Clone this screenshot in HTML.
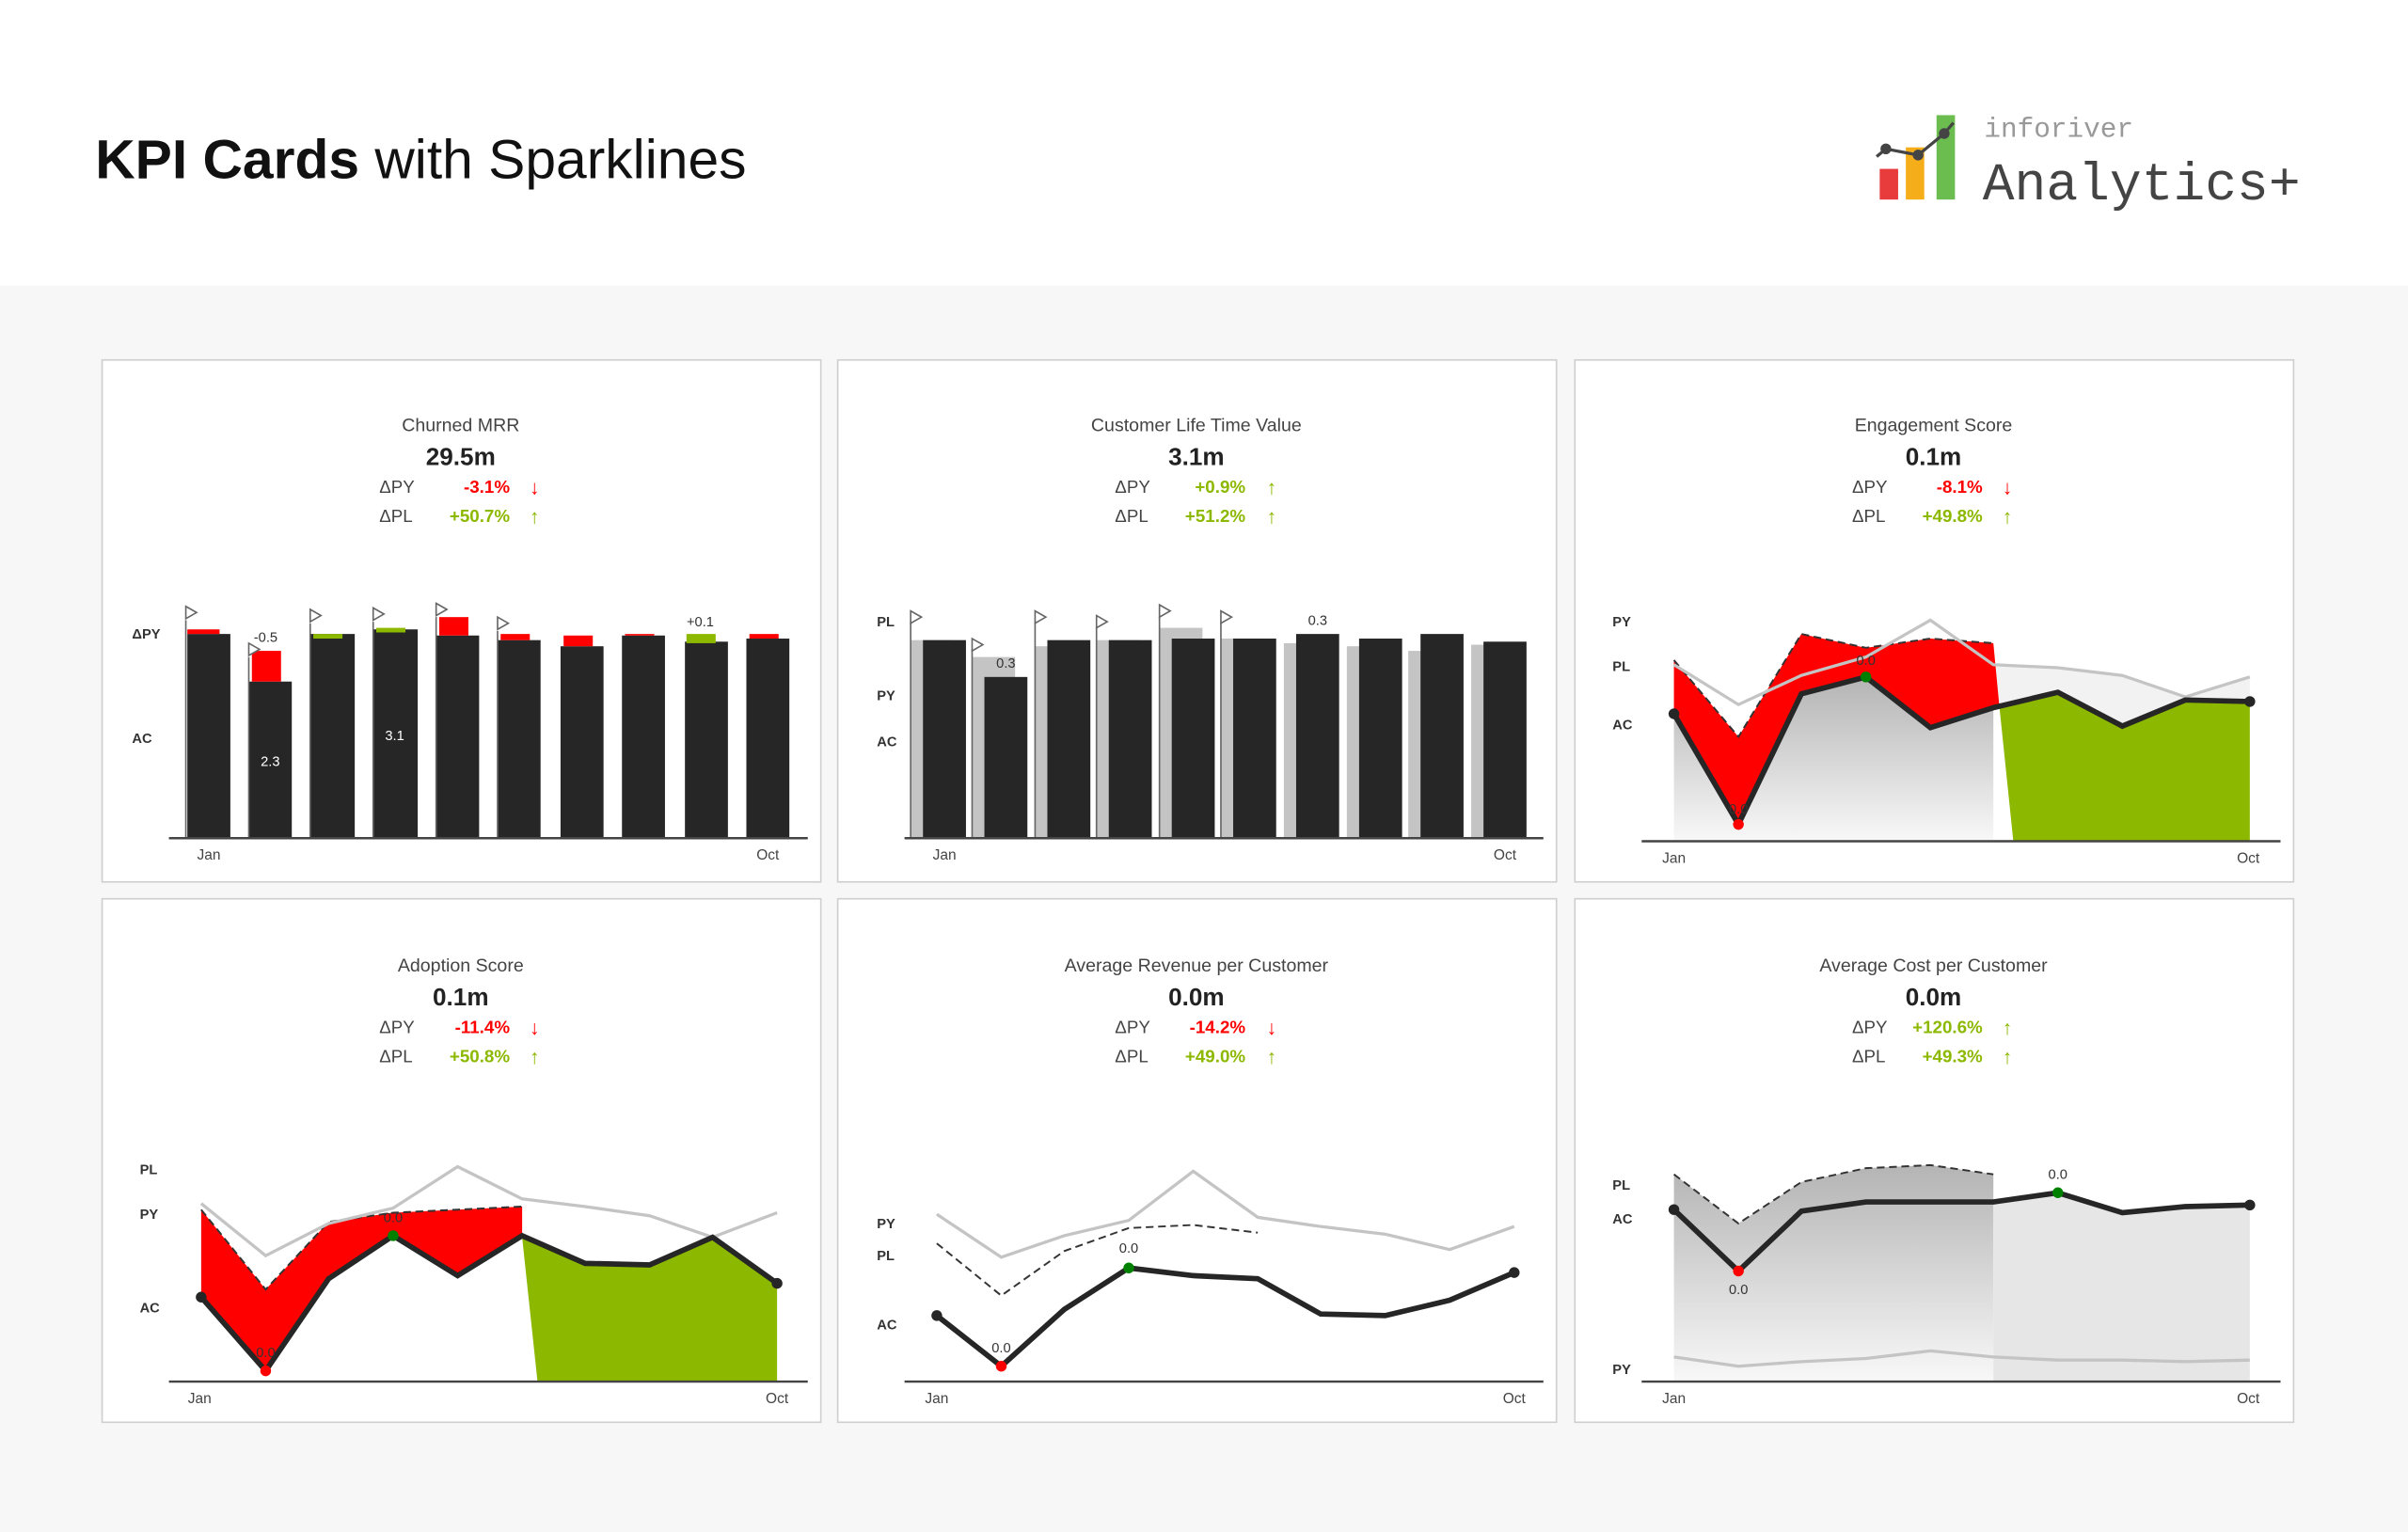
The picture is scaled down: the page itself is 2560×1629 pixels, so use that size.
<!DOCTYPE html>
<html><head><meta charset="utf-8"><style>
html,body{margin:0;padding:0;background:#fff}
svg{display:block}
text{font-family:"Liberation Sans",sans-serif}
.t{font-size:12px;fill:#444;text-anchor:middle}
.v{font-size:16px;font-weight:bold;fill:#222;text-anchor:middle}
.l{font-size:11.5px;fill:#444}
.r{font-size:11.5px;fill:#f00;font-weight:bold;text-anchor:end}
.g{font-size:11.5px;fill:#8cb800;font-weight:bold;text-anchor:end}
.ax{font-size:9px;font-weight:bold;fill:#333}
.m{font-size:9.5px;fill:#444}
.s{font-size:9px;fill:#333}
</style></head><body>
<svg width="2560" height="1629" viewBox="0 0 1568 998" preserveAspectRatio="none" xmlns="http://www.w3.org/2000/svg">
<defs>
<linearGradient id="gg" x1="0" y1="0" x2="0" y2="1"><stop offset="0" stop-color="#b4b4b4"/><stop offset="1" stop-color="#f8f8f8"/></linearGradient>
</defs>
<rect x="0" y="0" width="1568" height="998" fill="#f7f7f7"/>
<rect x="0" y="0" width="1568" height="186" fill="#fff"/>
<text x="62" y="116" font-size="36" fill="#111"><tspan font-weight="bold">KPI Cards</tspan> with Sparklines</text>
<!-- logo -->
<rect x="1224" y="110" width="12" height="20" fill="#e83c3c"/>
<rect x="1241" y="96" width="12" height="34" fill="#f5ae1a"/>
<rect x="1261" y="75" width="12" height="55" fill="#6cbd4f"/>
<polyline points="1222,102 1228,97 1249,101 1266,87 1272,80" fill="none" stroke="#444" stroke-width="2"/>
<circle cx="1228" cy="97" r="3.5" fill="#444"/><circle cx="1249" cy="101" r="3.5" fill="#444"/><circle cx="1266" cy="87" r="3.5" fill="#444"/>
<text x="1292" y="89" font-size="18" fill="#999" style="font-family:'Liberation Mono',monospace">inforiver</text>
<text x="1291" y="130" font-size="34.5" fill="#444" style="font-family:'Liberation Mono',monospace">Analytics+</text>

<!-- cards -->
<g fill="#fff" stroke="#cfcfcf" stroke-width="1">
<rect x="66.5" y="234.5" width="468" height="340"/>
<rect x="545.5" y="234.5" width="468" height="340"/>
<rect x="1025.5" y="234.5" width="468" height="340"/>
<rect x="66.5" y="585.5" width="468" height="341"/>
<rect x="545.5" y="585.5" width="468" height="341"/>
<rect x="1025.5" y="585.5" width="468" height="341"/>
</g>

<!-- headers -->
<g>
<text class="t" x="300" y="281">Churned MRR</text><text class="v" x="300" y="303">29.5m</text>
<text class="l" x="247" y="321">ΔPY</text><text class="r" x="332" y="321">-3.1%</text><text x="348" y="322" font-size="13" fill="#f00" font-weight="bold" text-anchor="middle">↓</text>
<text class="l" x="247" y="340">ΔPL</text><text class="g" x="332" y="340">+50.7%</text><text x="348" y="341" font-size="13" fill="#8cb800" font-weight="bold" text-anchor="middle">↑</text>

<text class="t" x="779" y="281">Customer Life Time Value</text><text class="v" x="779" y="303">3.1m</text>
<text class="l" x="726" y="321">ΔPY</text><text class="g" x="811" y="321">+0.9%</text><text x="828" y="322" font-size="13" fill="#8cb800" font-weight="bold" text-anchor="middle">↑</text>
<text class="l" x="726" y="340">ΔPL</text><text class="g" x="811" y="340">+51.2%</text><text x="828" y="341" font-size="13" fill="#8cb800" font-weight="bold" text-anchor="middle">↑</text>

<text class="t" x="1259" y="281">Engagement Score</text><text class="v" x="1259" y="303">0.1m</text>
<text class="l" x="1206" y="321">ΔPY</text><text class="r" x="1291" y="321">-8.1%</text><text x="1307" y="322" font-size="13" fill="#f00" font-weight="bold" text-anchor="middle">↓</text>
<text class="l" x="1206" y="340">ΔPL</text><text class="g" x="1291" y="340">+49.8%</text><text x="1307" y="341" font-size="13" fill="#8cb800" font-weight="bold" text-anchor="middle">↑</text>

<text class="t" x="300" y="633">Adoption Score</text><text class="v" x="300" y="655">0.1m</text>
<text class="l" x="247" y="673">ΔPY</text><text class="r" x="332" y="673">-11.4%</text><text x="348" y="674" font-size="13" fill="#f00" font-weight="bold" text-anchor="middle">↓</text>
<text class="l" x="247" y="692">ΔPL</text><text class="g" x="332" y="692">+50.8%</text><text x="348" y="693" font-size="13" fill="#8cb800" font-weight="bold" text-anchor="middle">↑</text>

<text class="t" x="779" y="633">Average Revenue per Customer</text><text class="v" x="779" y="655">0.0m</text>
<text class="l" x="726" y="673">ΔPY</text><text class="r" x="811" y="673">-14.2%</text><text x="828" y="674" font-size="13" fill="#f00" font-weight="bold" text-anchor="middle">↓</text>
<text class="l" x="726" y="692">ΔPL</text><text class="g" x="811" y="692">+49.0%</text><text x="828" y="693" font-size="13" fill="#8cb800" font-weight="bold" text-anchor="middle">↑</text>

<text class="t" x="1259" y="633">Average Cost per Customer</text><text class="v" x="1259" y="655">0.0m</text>
<text class="l" x="1206" y="673">ΔPY</text><text class="g" x="1291" y="673">+120.6%</text><text x="1307" y="674" font-size="13" fill="#8cb800" font-weight="bold" text-anchor="middle">↑</text>
<text class="l" x="1206" y="692">ΔPL</text><text class="g" x="1291" y="692">+49.3%</text><text x="1307" y="693" font-size="13" fill="#8cb800" font-weight="bold" text-anchor="middle">↑</text>
</g>

<!-- Card 1 bars -->
<g fill="#262626">
<rect x="122" y="413" width="28" height="133"/><rect x="162" y="444" width="28" height="102"/>
<rect x="202" y="413" width="29" height="133"/><rect x="243" y="410" width="29" height="136"/>
<rect x="284" y="414" width="28" height="132"/><rect x="324" y="417" width="28" height="129"/>
<rect x="365" y="421" width="28" height="125"/><rect x="405" y="414" width="28" height="132"/>
<rect x="446" y="418" width="28" height="128"/><rect x="486" y="416" width="28" height="130"/>
</g>
<g>
<rect x="122" y="410" width="21" height="3" fill="#f00"/>
<rect x="164" y="424" width="19" height="20" fill="#f00"/>
<rect x="204" y="413" width="19" height="3" fill="#8cb800"/>
<rect x="245" y="409" width="19" height="3" fill="#8cb800"/>
<rect x="286" y="402" width="19" height="12" fill="#f00"/>
<rect x="326" y="413" width="19" height="4" fill="#f00"/>
<rect x="367" y="414" width="19" height="7" fill="#f00"/>
<rect x="407" y="413" width="19" height="1" fill="#f00"/>
<rect x="447" y="413" width="19" height="6" fill="#8cb800"/>
<rect x="488" y="413" width="19" height="3" fill="#f00"/>
</g>
<g stroke="#666" stroke-width="1" fill="#fff">
<line x1="121" y1="404" x2="121" y2="546"/><line x1="162" y1="428" x2="162" y2="546"/><line x1="202" y1="406" x2="202" y2="546"/>
<line x1="243" y1="405" x2="243" y2="546"/><line x1="284" y1="402" x2="284" y2="546"/><line x1="324" y1="411" x2="324" y2="546"/>
<path d="M121,395l7,4l-7,4z"/><path d="M162,419l7,4l-7,4z"/><path d="M202,397l7,4l-7,4z"/>
<path d="M243,396l7,4l-7,4z"/><path d="M284,393l7,4l-7,4z"/><path d="M324,402l7,4l-7,4z"/>
</g>
<text class="s" x="173" y="418" text-anchor="middle">-0.5</text>
<text class="s" x="176" y="499" text-anchor="middle" style="fill:#fff">2.3</text>
<text class="s" x="257" y="482" text-anchor="middle" style="fill:#fff">3.1</text>
<text class="s" x="456" y="408" text-anchor="middle">+0.1</text>
<text class="ax" x="86" y="416">ΔPY</text><text class="ax" x="86" y="484">AC</text>
<line x1="110" y1="546" x2="526" y2="546" stroke="#444" stroke-width="1.5"/>
<text class="m" x="136" y="560" text-anchor="middle">Jan</text><text class="m" x="500" y="560" text-anchor="middle">Oct</text>

<!-- Card 2 bars -->
<g fill="#c4c4c4">
<rect x="593" y="417" width="28" height="129"/><rect x="633" y="428" width="28" height="118"/>
<rect x="674" y="421" width="28" height="125"/><rect x="714" y="417" width="28" height="129"/>
<rect x="755" y="409" width="28" height="137"/><rect x="795" y="416" width="28" height="130"/>
<rect x="836" y="419" width="28" height="127"/><rect x="877" y="421" width="28" height="125"/>
<rect x="917" y="424" width="28" height="122"/><rect x="958" y="420" width="28" height="126"/>
</g>
<g fill="#262626">
<rect x="601" y="417" width="28" height="129"/><rect x="641" y="441" width="28" height="105"/>
<rect x="682" y="417" width="28" height="129"/><rect x="722" y="417" width="28" height="129"/>
<rect x="763" y="416" width="28" height="130"/><rect x="803" y="416" width="28" height="130"/>
<rect x="844" y="413" width="28" height="133"/><rect x="885" y="416" width="28" height="130"/>
<rect x="925" y="413" width="28" height="133"/><rect x="966" y="418" width="28" height="128"/>
</g>
<g stroke="#666" stroke-width="1" fill="#fff">
<line x1="593" y1="405" x2="593" y2="546"/><line x1="633" y1="423" x2="633" y2="546"/><line x1="674" y1="406" x2="674" y2="546"/>
<line x1="714" y1="409" x2="714" y2="546"/><line x1="755" y1="402" x2="755" y2="546"/><line x1="795" y1="406" x2="795" y2="546"/>
<path d="M593,398l7,4l-7,4z"/><path d="M633,416l7,4l-7,4z"/><path d="M674,398l7,4l-7,4z"/>
<path d="M714,401l7,4l-7,4z"/><path d="M755,394l7,4l-7,4z"/><path d="M795,398l7,4l-7,4z"/>
</g>
<text class="s" x="655" y="435" text-anchor="middle">0.3</text><text class="s" x="858" y="407" text-anchor="middle">0.3</text>
<text class="ax" x="571" y="408">PL</text><text class="ax" x="571" y="456">PY</text><text class="ax" x="571" y="486">AC</text>
<line x1="589" y1="546" x2="1005" y2="546" stroke="#444" stroke-width="1.5"/>
<text class="m" x="615" y="560" text-anchor="middle">Jan</text><text class="m" x="980" y="560" text-anchor="middle">Oct</text>

<!-- Card 3 -->
<polygon points="1090,465 1132,537 1173,452 1215,441 1257,474 1298,461 1298,548 1090,548" fill="url(#gg)"/>
<polygon points="1298,433 1340,435 1382,440 1423,454 1465,441 1465,457 1423,456 1382,473 1340,451 1298,461" fill="#f2f2f2"/>
<polygon points="1090,430 1132,480 1173,413 1215,422 1257,416 1298,419 1302,461 1257,474 1215,441 1173,452 1132,537 1090,465" fill="#f00"/>
<polygon points="1302,461 1340,451 1382,473 1423,456 1465,457 1465,548 1311,548" fill="#8cb800"/>
<polyline points="1090,430 1132,480 1173,413 1215,422 1257,416 1298,419" fill="none" stroke="#333" stroke-width="1.2" stroke-dasharray="5,3"/>
<polyline points="1090,433 1132,459 1173,440 1215,428 1257,404 1298,433 1340,435 1382,440 1423,454 1465,441" fill="none" stroke="#c4c4c4" stroke-width="2"/>
<polyline points="1090,465 1132,537 1173,452 1215,441 1257,474 1298,461 1340,451 1382,473 1423,456 1465,457" fill="none" stroke="#262626" stroke-width="3.5"/>
<circle cx="1090" cy="465" r="3.5" fill="#262626"/><circle cx="1132" cy="537" r="3.5" fill="#f00"/><circle cx="1215" cy="441" r="3.5" fill="#008000"/><circle cx="1465" cy="457" r="3.5" fill="#262626"/>
<text class="s" x="1215" y="433" text-anchor="middle">0.0</text><text class="s" x="1132" y="530" text-anchor="middle">0.0</text>
<text class="ax" x="1050" y="408">PY</text><text class="ax" x="1050" y="437">PL</text><text class="ax" x="1050" y="475">AC</text>
<line x1="1069" y1="548" x2="1485" y2="548" stroke="#444" stroke-width="1.5"/>
<text class="m" x="1090" y="562" text-anchor="middle">Jan</text><text class="m" x="1464" y="562" text-anchor="middle">Oct</text>

<!-- Card 4 -->
<polygon points="131,788 173,840 214,796 256,790 298,788 340,786 340,805 298,831 256,805 214,833 173,893 131,845" fill="#f00"/>
<polygon points="340,806 381,823 423,824 464,806 506,836 506,900 350,900" fill="#8cb800"/>
<polyline points="131,788 173,840 214,796 256,790 298,788 340,786" fill="none" stroke="#333" stroke-width="1.2" stroke-dasharray="5,3"/>
<polyline points="131,784 173,818 214,797 256,787 298,760 340,781 381,786 423,792 464,806 506,790" fill="none" stroke="#c4c4c4" stroke-width="2"/>
<polyline points="131,845 173,893 214,833 256,805 298,831 340,805 381,823 423,824 464,806 506,836" fill="none" stroke="#262626" stroke-width="3.5"/>
<circle cx="131" cy="845" r="3.5" fill="#262626"/><circle cx="173" cy="893" r="3.5" fill="#f00"/><circle cx="256" cy="805" r="3.5" fill="#008000"/><circle cx="506" cy="836" r="3.5" fill="#262626"/>
<text class="s" x="256" y="796" text-anchor="middle">0.0</text><text class="s" x="173" y="884" text-anchor="middle">0.0</text>
<text class="ax" x="91" y="765">PL</text><text class="ax" x="91" y="794">PY</text><text class="ax" x="91" y="855">AC</text>
<line x1="110" y1="900" x2="526" y2="900" stroke="#444" stroke-width="1.5"/>
<text class="m" x="130" y="914" text-anchor="middle">Jan</text><text class="m" x="506" y="914" text-anchor="middle">Oct</text>

<!-- Card 5 -->
<polyline points="610,810 652,844 693,815 735,800 777,798 819,803" fill="none" stroke="#333" stroke-width="1.2" stroke-dasharray="5,3"/>
<polyline points="610,791 652,819 693,805 735,795 777,763 819,793 860,799 902,804 944,814 986,799" fill="none" stroke="#c4c4c4" stroke-width="2"/>
<polyline points="610,857 652,890 693,853 735,826 777,831 819,833 860,856 902,857 944,847 986,829" fill="none" stroke="#262626" stroke-width="3.5"/>
<circle cx="610" cy="857" r="3.5" fill="#262626"/><circle cx="652" cy="890" r="3.5" fill="#f00"/><circle cx="735" cy="826" r="3.5" fill="#008000"/><circle cx="986" cy="829" r="3.5" fill="#262626"/>
<text class="s" x="735" y="816" text-anchor="middle">0.0</text><text class="s" x="652" y="881" text-anchor="middle">0.0</text>
<text class="ax" x="571" y="800">PY</text><text class="ax" x="571" y="821">PL</text><text class="ax" x="571" y="866">AC</text>
<line x1="589" y1="900" x2="1005" y2="900" stroke="#444" stroke-width="1.5"/>
<text class="m" x="610" y="914" text-anchor="middle">Jan</text><text class="m" x="986" y="914" text-anchor="middle">Oct</text>

<!-- Card 6 -->
<polygon points="1090,765 1132,797 1173,770 1215,761 1257,759 1298,765 1298,900 1090,900" fill="url(#gg)"/>
<polygon points="1298,783 1340,777 1382,790 1423,786 1465,785 1465,900 1298,900" fill="#e6e6e6"/>
<polyline points="1090,765 1132,797 1173,770 1215,761 1257,759 1298,765" fill="none" stroke="#333" stroke-width="1.2" stroke-dasharray="5,3"/>
<polyline points="1090,884 1132,890 1173,887 1215,885 1257,880 1298,884 1340,886 1382,886 1423,887 1465,886" fill="none" stroke="#c4c4c4" stroke-width="2"/>
<polyline points="1090,788 1132,828 1173,789 1215,783 1257,783 1298,783 1340,777 1382,790 1423,786 1465,785" fill="none" stroke="#262626" stroke-width="3.5"/>
<circle cx="1090" cy="788" r="3.5" fill="#262626"/><circle cx="1132" cy="828" r="3.5" fill="#f00"/><circle cx="1340" cy="777" r="3.5" fill="#008000"/><circle cx="1465" cy="785" r="3.5" fill="#262626"/>
<text class="s" x="1340" y="768" text-anchor="middle">0.0</text><text class="s" x="1132" y="843" text-anchor="middle">0.0</text>
<text class="ax" x="1050" y="775">PL</text><text class="ax" x="1050" y="797">AC</text><text class="ax" x="1050" y="895">PY</text>
<line x1="1069" y1="900" x2="1485" y2="900" stroke="#444" stroke-width="1.5"/>
<text class="m" x="1090" y="914" text-anchor="middle">Jan</text><text class="m" x="1464" y="914" text-anchor="middle">Oct</text>
</svg>
</body></html>
